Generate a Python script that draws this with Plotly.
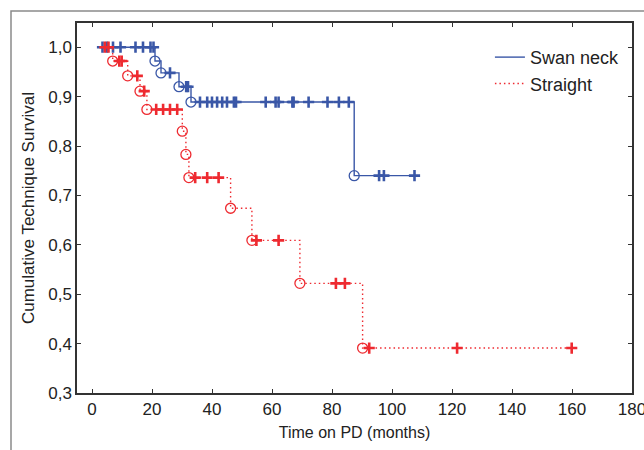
import plotly.graph_objects as go

# ---- data ----
swan_event_t = [21.0, 23.0, 29.0, 33.0, 87.4]
swan_event_s = [0.972, 0.948, 0.920, 0.889, 0.740]
swan_censor_t = [3.5, 5.0, 7.0, 9.5, 14.5, 17.0, 19.5, 20.5, 26.0, 31.4, 32.0,
                 36.0, 38.4, 40.0, 41.7, 43.4, 45.0, 47.3, 48.0, 57.9, 61.2, 62.2,
                 66.8, 67.2, 72.2, 78.5, 82.3, 85.6, 95.7, 97.3, 107.5]

straight_event_t = [6.9, 11.9, 16.0, 18.3, 30.1, 31.3, 32.3, 46.2, 53.3, 69.3, 90.2]
straight_event_s = [0.972, 0.942, 0.911, 0.874, 0.830, 0.783, 0.736, 0.674, 0.609, 0.522, 0.391]
straight_censor_t = [4.3, 5.5, 9.1, 9.9, 15.1, 17.4, 21.4, 23.7, 26.0, 28.4, 34.4, 38.4,
                     42.2, 54.8, 62.2, 81.3, 84.3, 92.4, 121.7, 159.9]

x_ticks = [0, 20, 40, 60, 80, 100, 120, 140, 160, 180]
y_ticks = [0.3, 0.4, 0.5, 0.6, 0.7, 0.8, 0.9, 1.0]

BLUE = "#3a57a7"
RED = "#ee2a30"
FONT = "Liberation Sans, Arial"


def surv_at(t, ev_t, ev_s):
    s = 1.0
    for et, es in zip(ev_t, ev_s):
        if et <= t:
            s = es
    return s


def step_path(ev_t, ev_s, cen_t):
    pts = sorted(set(ev_t) | set(cen_t))
    xs = [min(pts)]
    ys = [1.0]
    for t in pts:
        xs.append(t)
        ys.append(surv_at(t, ev_t, ev_s))
    return xs, ys


fig = go.Figure()

for name, ev_t, ev_s, cen_t, col, dash in [
    ("Swan neck", swan_event_t, swan_event_s, swan_censor_t, BLUE, "solid"),
    ("Straight", straight_event_t, straight_event_s, straight_censor_t, RED, "1.5px,3px"),
]:
    xs, ys = step_path(ev_t, ev_s, cen_t)
    fig.add_trace(go.Scatter(x=xs, y=ys, mode="lines", line_shape="hv",
                             line=dict(color=col, width=1.4, dash=dash),
                             name=name, showlegend=True))
    fig.add_trace(go.Scatter(x=ev_t, y=ev_s, mode="markers", showlegend=False,
                             marker=dict(symbol="circle-open", size=10,
                                         color=col, line=dict(width=1.3, color=col))))
    fig.add_trace(go.Scatter(x=cen_t, y=[surv_at(t, ev_t, ev_s) for t in cen_t],
                             mode="markers", showlegend=False,
                             marker=dict(symbol="cross-thin", size=8, color=col,
                                         line=dict(width=2.6, color=col))))

axis_common = dict(showline=True, linecolor="#333333", linewidth=1.5, mirror="allticks",
                   ticks="inside", ticklen=4, tickcolor="#333333", showgrid=False,
                   zeroline=False, automargin=False, ticklabeloverflow="allow",
                   tickfont=dict(family=FONT, size=17, color="#222222"))

fig.update_xaxes(range=[-5, 180], tickvals=x_ticks, title=dict(
    text="Time on PD (months)", standoff=9,
    font=dict(family=FONT, size=16, color="#222222")), **axis_common)
fig.update_yaxes(range=[0.3, 1.049], tickvals=y_ticks, tickformat=".1f", title=dict(
    text="Cumulative Technique Survival", standoff=9,
    font=dict(family=FONT, size=17, color="#222222")), **axis_common)

fig.update_layout(
    width=644, height=450,
    margin=dict(l=77, r=12, t=23, b=57),
    template="none",
    separators=", ",
    paper_bgcolor="white", plot_bgcolor="white",
    legend=dict(x=0.744, y=0.957, xanchor="left", yanchor="top",
                bgcolor="rgba(0,0,0,0)",
                font=dict(family=FONT, size=18, color="#222222")),
    shapes=[dict(type="rect", xref="paper", yref="paper",
                 x0=(11 - 77) / 555, x1=1.2, y0=-0.3, y1=(393 - 11) / 370,
                 line=dict(color="#8a8a8a", width=1.5), layer="below")],
)

fig.write_html("out.html", config={"displayModeBar": False},
               post_script="document.body.style.margin='0';document.body.style.overflow='hidden';")
